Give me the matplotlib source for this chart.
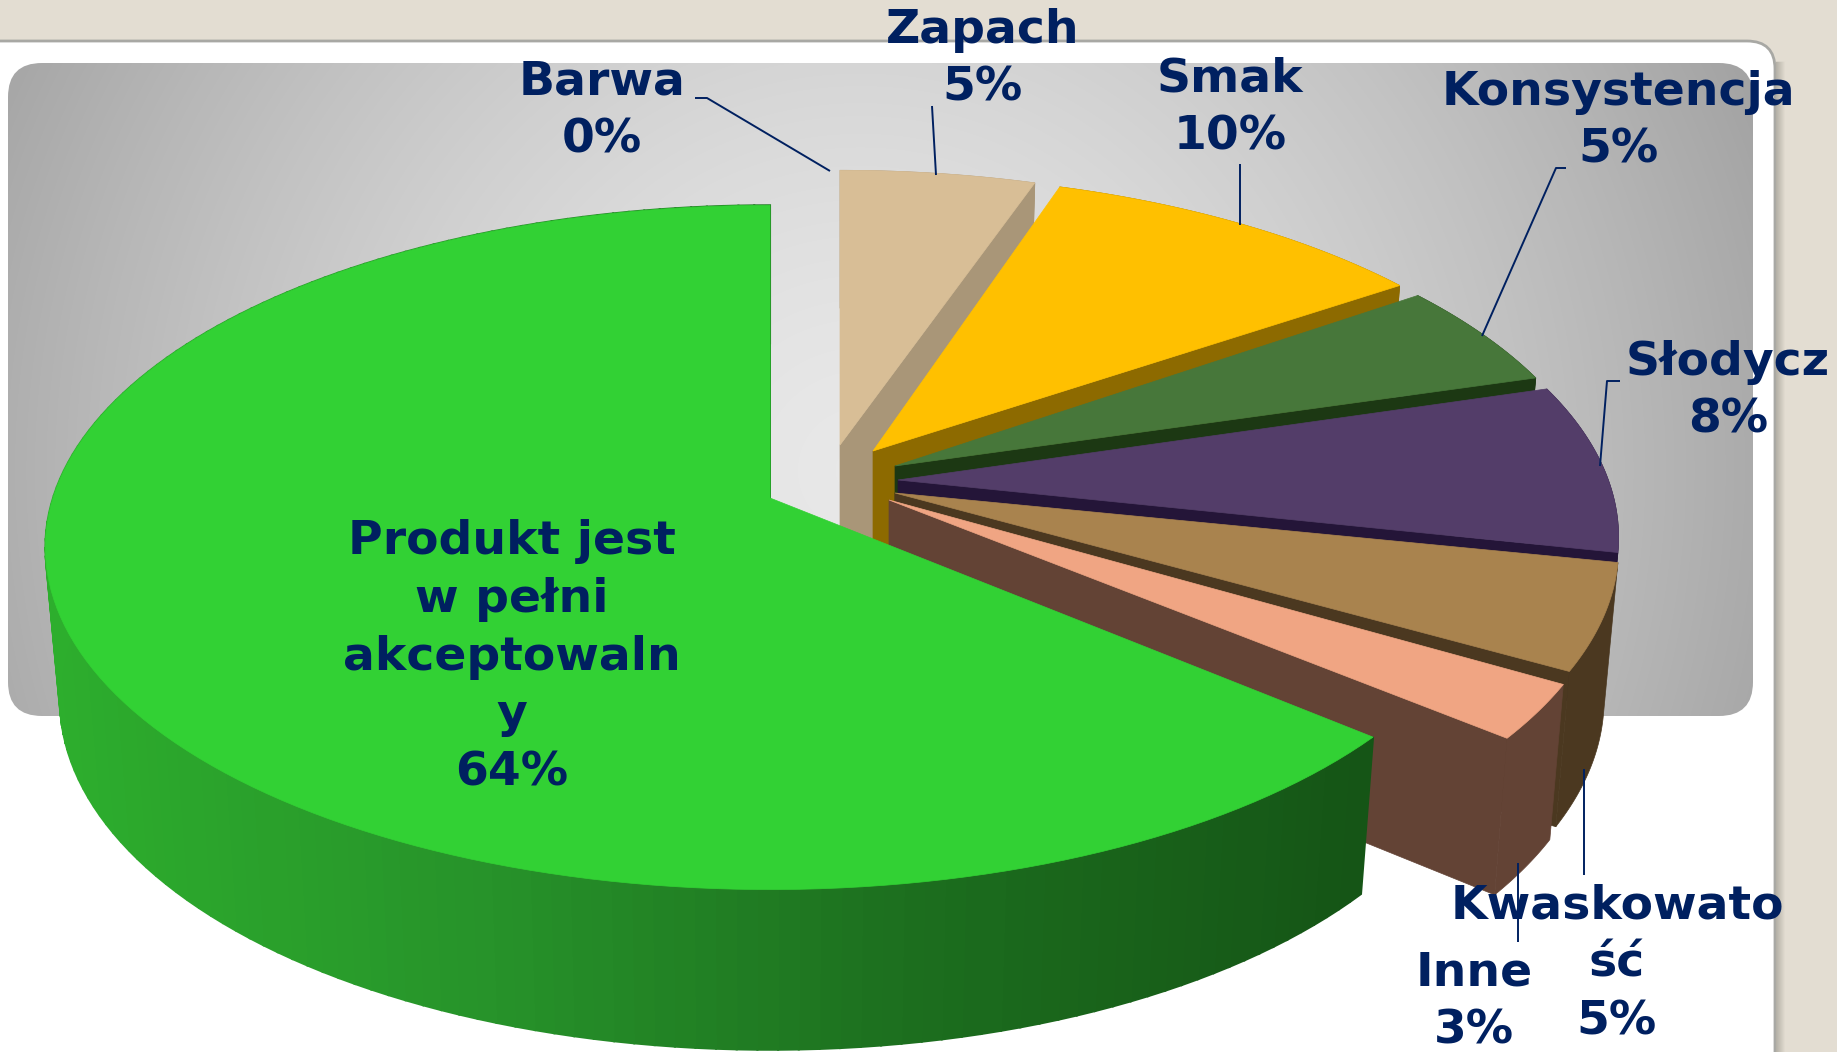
import numpy as np
import matplotlib
matplotlib.use("Agg")
import matplotlib.pyplot as plt
from matplotlib.patches import FancyBboxPatch
from matplotlib.colors import LinearSegmentedColormap

### The data, clockwise from 12 o'clock (shares as drawn, the labels show them rounded)
categories = ["Barwa", "Zapach", "Smak", "Konsystencja", "Słodycz",
              "Kwaskowatość", "Inne", "Produkt jest w pełni akceptowalny"]
percents = [0, 5, 10, 5, 8, 5, 2.6, 63.8]
label_texts = ["Barwa\n0%", "Zapach\n5%", "Smak\n10%", "Konsystencja\n5%", "Słodycz\n8%",
               "Kwaskowato\nść\n5%", "Inne\n3%", "Produkt jest\nw pełni\nakceptowaln\ny\n64%"]

### Styles and layout, all in picture pixels
top_colors = ["#D8BE96", "#D8BE96", "#FFC000", "#47773A", "#533D69", "#A9834E", "#F0A583", "#32D134"]
wall_colors = ["#A99678", "#A99678", "#8D6A00", "#1C3813", "#241538", "#4B3820", "#634335", "#1F8A22"]
rim_origin = [(840, 463), (840, 463), (865, 467), (883, 477), (894, 488), (894, 498), (888, 511), (770, 498)]
tips = [(840, 445), (840, 445), (873, 451), (895, 466), (898, 480), (895, 493), (889, 500), (770, 498)]
label_pos = [(602, 111), (983, 59), (1230, 108), (1618, 121), (1728, 391),
             (1617, 964), (1474, 1002), (512, 657)]
leader_x = [[695, 707, 830], [932, 936], [1240, 1240], [1566, 1556, 1482], [1620, 1607, 1600],
            [1584, 1584], [1518, 1518]]
leader_y = [[98, 98, 171], [106, 175], [164, 225], [168, 168, 336], [381, 381, 466],
            [769, 875], [863, 942]]

RX, RY, PERSP = 717., 335., 0.1445
HEIGHT, SHRINK = 150., 0.98
NAVY = "#002060"


def project(theta, ox, oy):
    """top rim point for clockwise angle theta (rad), perspective foreshortened"""
    u, v = np.sin(theta), -np.cos(theta)
    den = 1 - PERSP*v
    return ox + RX*u/den, oy + RY*v/den


def lower(theta, x, y, ox, oy):
    v = -np.cos(theta)
    return ox + SHRINK*(x-ox), oy + SHRINK*(y-oy) + HEIGHT*(1+0.12*v)


fig = plt.figure(figsize=(18.37, 10.52), dpi=100, facecolor="#E3DDD2")
ax = fig.add_axes([0, 0, 1, 1])
ax.axis("off")

# white slide panel + its soft right edge
ax.add_patch(FancyBboxPatch((-60, 41), 1835, 1100, boxstyle="round,pad=0,rounding_size=28",
                            fc="white", ec="#A8A8A4", lw=2))
shade = LinearSegmentedColormap.from_list("edge", ["#B4B0A6", "#E3DDD2"])
for k in range(10):
    ax.fill([1776+k, 1777+k, 1777+k, 1776+k], [62, 62, 1052, 1052], color=shade(k/9.), lw=0.3)

# grey radial panel behind the pie
yy, xx = np.mgrid[63:716, 8:1753]
dist = np.hypot(xx-860, yy-470)/1000.
grad = np.clip(dist, 0, 1)**1.5
cmap = LinearSegmentedColormap.from_list("panel", ["#E8E8E8", "#A0A0A0"])
im = ax.imshow(grad, extent=(8, 1753, 716, 63), cmap=cmap, vmin=0, vmax=1, interpolation="bilinear", zorder=1)
box = FancyBboxPatch((8, 63), 1745, 653, boxstyle="round,pad=0,rounding_size=34", fc="none", ec="none",
                     transform=ax.transData, zorder=1)
ax.add_patch(box)
im.set_clip_path(box)

# slices back to front, the big one last and anchored at 12 o'clock
edges = np.cumsum([0]+percents)/100.*2*np.pi
green_wall = LinearSegmentedColormap.from_list("gw", ["#2DAE2D", "#27932A", "#1C6E1E", "#155516"])
for i in range(len(percents)):
    if percents[i] == 0:
        continue
    a0, a1 = edges[i], edges[i+1]
    if i == len(percents)-1:
        a0, a1 = 2*np.pi*(1-percents[i]/100.), 2*np.pi
    ox, oy = rim_origin[i]
    tx, ty = tips[i]
    th = np.linspace(a0, a1, 160)
    x, y = project(th, ox, oy)
    bx, by = lower(th, x, y, ox, oy)

    # wall along the closing edge
    ax.fill([tx, x[-1], bx[-1], tx], [ty, y[-1], by[-1], ty+HEIGHT],
            color=wall_colors[i], lw=0.5, zorder=2+i)
    # outer rim
    if i == len(percents)-1:
        for j in range(len(th)-1):
            t = (x[j]-45.)/(1368.-45.)
            c = green_wall(np.clip(t, 0, 1))
            ax.fill([x[j], x[j+1], bx[j+1], bx[j]], [y[j], y[j+1], by[j+1], by[j]],
                    fc=c, ec=c, lw=1.5, zorder=2+i)
    else:
        ax.fill(np.r_[x, bx[::-1]], np.r_[y, by[::-1]], color=wall_colors[i], lw=0.5, zorder=2+i)
    # top face
    ax.fill(np.r_[tx, x], np.r_[ty, y], color=top_colors[i], lw=0.5, zorder=2+i)

# leader lines
for lx, ly in zip(leader_x, leader_y):
    ax.plot(lx, ly, color=NAVY, lw=1.4, zorder=20, solid_capstyle="butt")

# labels
for txt, pos in zip(label_texts, label_pos):
    ax.text(pos[0], pos[1], txt, color=NAVY, fontsize=34, fontweight="bold", family="DejaVu Sans",
            ha="center", va="center", multialignment="center", linespacing=1.37, zorder=21)

ax.set_xlim(0, 1837)
ax.set_ylim(1052, 0)
fig.savefig("out.png", dpi=100, facecolor=fig.get_facecolor())
